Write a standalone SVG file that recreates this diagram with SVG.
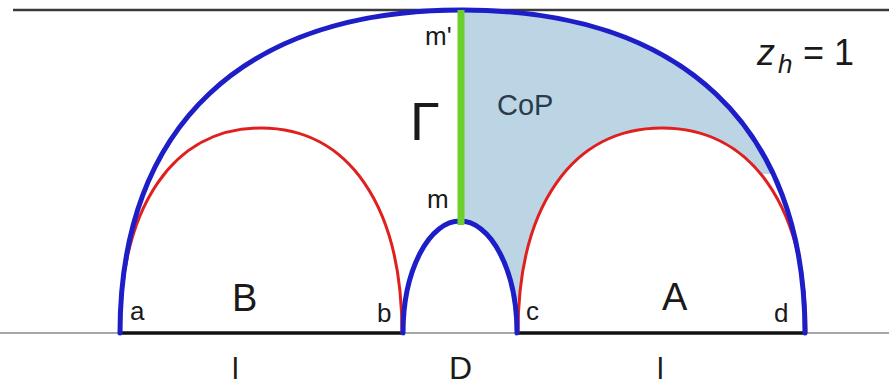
<svg xmlns="http://www.w3.org/2000/svg" width="889" height="386" viewBox="0 0 889 386">
  <style>
    .blue { fill: none; stroke: #1e1ec8; stroke-width: 5; stroke-linecap: round; }
    .red { fill: none; stroke: #e0201e; stroke-width: 3; }
    .lbl { font-family: "Liberation Sans", Arial, sans-serif; fill: #1a1a1a; }
    .it { font-style: italic; }
  </style>
  <defs>
    <clipPath id="copClip">
      <polygon points="461,0 889,0 889,174 640,174 640,300 461,300"/>
    </clipPath>
  </defs>
  <rect width="889" height="386" fill="#ffffff"/>

  <g id="region-CoP">
    <path d="M 120 333 C 120 126.3, 243.3 10, 462.5 10 C 681.7 10, 805 126.3, 805 333 Z" fill="#bcd5e5" clip-path="url(#copClip)"/>
    <path d="M 518 333 C 518 205.9, 572.7 128, 662 128 C 751.3 128, 806 205.9, 806 333 Z" fill="#ffffff"/>
    <path d="M 403 333 A 57 112 0 0 1 517 333 Z" fill="#ffffff"/>
  </g>

  <g id="frame">
    <line x1="13" y1="10" x2="889" y2="10" stroke="#3a3a3a" stroke-width="2.5"/>
    <line x1="0" y1="333" x2="889" y2="333" stroke="#8a8a8a" stroke-width="1.5"/>
    <line x1="120" y1="333" x2="402" y2="333" stroke="#111" stroke-width="3.5"/>
    <line x1="518" y1="333" x2="806" y2="333" stroke="#111" stroke-width="3.5"/>
  </g>

  <g id="connectors">
    <path id="arc-B" class="red" d="M 120 333 C 120 205.9, 173.6 128, 261 128 C 348.4 128, 402 205.9, 402 333"/>
    <path id="arc-A" class="red" d="M 518 333 C 518 205.9, 572.7 128, 662 128 C 751.3 128, 806 205.9, 806 333"/>
    <path id="arc-outer" class="blue" d="M 120 333 C 120 126.3, 243.3 10, 462.5 10 C 681.7 10, 805 126.3, 805 333"/>
    <path id="arc-D" class="blue" d="M 403 333 A 57 112 0 0 1 517 333"/>
    <line id="gamma-line" x1="461" y1="10" x2="461" y2="225" stroke="#6ccf2c" stroke-width="7"/>
  </g>

  <g id="labels">
    <text class="lbl" x="425" y="45" font-size="26">m'</text>
    <text class="lbl" x="427" y="208" font-size="26">m</text>
    <text class="lbl" x="410" y="140" font-size="54">Γ</text>
    <text class="lbl" x="497" y="115" font-size="29" style="fill:#2b3b4b">CoP</text>
    <text class="lbl it" x="757" y="65" font-size="36">z</text>
    <text class="lbl it" x="778" y="73" font-size="26">h</text>
    <text class="lbl" x="803" y="65" font-size="36">= 1</text>
    <text class="lbl" x="232" y="311" font-size="38">B</text>
    <text class="lbl" x="662" y="310" font-size="38">A</text>
    <text class="lbl" x="130" y="320" font-size="26">a</text>
    <text class="lbl" x="377" y="322" font-size="26">b</text>
    <text class="lbl" x="526" y="320" font-size="26">c</text>
    <text class="lbl" x="774" y="322" font-size="26">d</text>
    <text class="lbl" x="232" y="379" font-size="30">l</text>
    <text class="lbl" x="449" y="379" font-size="32">D</text>
    <text class="lbl" x="657" y="379" font-size="30">l</text>
  </g>
</svg>
